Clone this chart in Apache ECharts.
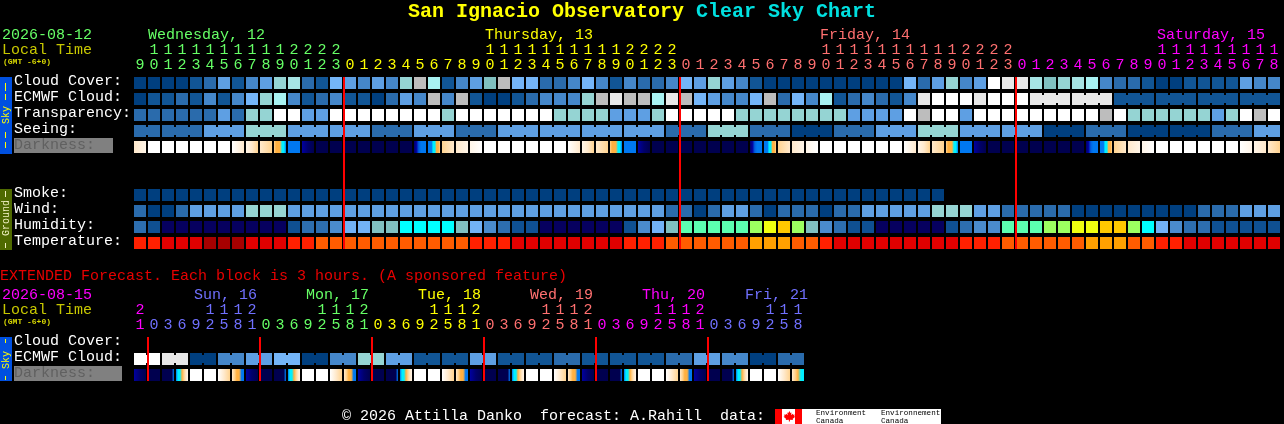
<!DOCTYPE html>
<html><head><meta charset="utf-8">
<style>html,body{margin:0;padding:0;background:#000}#c{width:1284px;height:424px}</style>
<script src="https://cdn.jsdelivr.net/npm/echarts@6/dist/echarts.min.js"></script>
</head><body><div id="c"></div>
<script>
// ---------- data ----------
const title1 = 'San Ignacio Observatory';
const title2 = 'Clear Sky Chart';
const hours = [9,10,11,12,13,14,15,16,17,18,19,20,21,22,23,
 0,1,2,3,4,5,6,7,8,9,10,11,12,13,14,15,16,17,18,19,20,21,22,23,
 0,1,2,3,4,5,6,7,8,9,10,11,12,13,14,15,16,17,18,19,20,21,22,23,
 0,1,2,3,4,5,6,7,8,9,10,11,12,13,14,15,16,17,18];
const extHours = [21,0,3,6,9,12,15,18,21,0,3,6,9,12,15,18,21,0,3,6,9,12,15,18,21,0,3,6,9,12,15,18,21,0,3,6,9,12,15,18,21,0,3,6,9,12,15,18];
const rowNames = ['Cloud Cover:','ECMWF Cloud:','Transparency:','Seeing:','Darkness:','','','Smoke:','Wind:','Humidity:','Temperature:'];
const extRowNames = ['Cloud Cover:','ECMWF Cloud:','Darkness:'];
const midnights = [15,39,63];
const extMidnights = [1,9,17,25,33,41];

// sky levels: 0 clear .. 10 overcast; 'a' and 'b' are the two extra tints seen in the picture
const cloudCover = [0,0,0,0,1,2,4,1,3,4,6,7,2,1,5,4,3,4,3,6,8,'b',1,3,4,'a',8,5,5,2,2,3,5,3,1,3,2,2,3,5,4,6,4,3,1,0,0,0,0,0,0,0,0,0,0,5,2,4,6,3,4,10,9,9,7,'a',6,7,'b',3,2,2,1,0,0,1,1,1,1,4,3,3];
const ecmwf = [0,1,1,2,1,3,1,3,5,6,'b',3,1,2,3,1,1,0,2,4,3,8,3,8,1,0,0,1,2,3,3,3,6,8,9,8,8,'b',9,8,5,4,3,3,5,8,2,5,3,'b',1,2,3,2,1,3,9,10,10,10,9,10,10,10,9,9,9,9,9,9,1,1,1,1,1,1,1,1,1,1,1,1];
const transparency = [2,2,2,2,2,2,4,2,6,6,10,10,4,4,10,10,10,10,10,10,10,10,6,10,10,10,10,10,10,10,6,6,6,6,4,4,4,6,10,10,10,10,10,6,6,6,6,6,6,6,6,4,4,4,4,10,8,10,10,4,10,10,10,10,10,10,10,10,10,8,10,6,6,6,6,6,6,4,6,10,8,10];
const seeing = [2,2,2,2,2,4,4,4,6,6,6,4,4,4,4,4,4,2,2,2,4,4,4,2,2,2,4,4,4,4,4,4,4,4,4,4,4,4,2,2,2,6,6,6,2,2,2,0,0,0,2,2,2,4,4,4,6,6,6,4,4,4,4,4,4,0,0,0,2,2,2,0,0,0,0,0,0,2,2,2,4,4];
const smoke = [0,0,0,0,0,0,0,0,0,0,0,0,0,0,0,0,0,0,0,0,0,0,0,0,0,0,0,0,0,0,0,0,0,0,0,0,0,0,0,0,0,0,0,0,0,0,0,0,0,0,0,0,0,0,0,0,0,0];
const wind = [2,0,0,2,4,4,4,4,6,6,6,4,4,4,4,4,4,4,4,4,4,4,4,4,4,4,4,4,4,4,4,4,4,4,4,4,4,4,2,2,0,2,4,4,2,0,2,2,2,0,2,2,4,4,4,4,4,6,6,6,4,4,2,2,2,2,2,0,0,0,0,0,0,0,0,0,2,2,2,4,4,4];
const humidity = [2,1,0,0,0,0,0,0,0,0,0,1,2,2,3,4,4,5,5,6,6,6,6,5,4,3,2,1,1,0,0,0,0,0,0,1,3,4,5,7,7,7,7,7,8,9,10,8,5,3,2,1,1,0,0,0,0,0,1,2,3,3,7,7,7,8,8,9,9,10,10,8,6,4,3,2,2,1,1,1,1,1];
const temperature = [2,2,1,1,1,0,0,0,1,1,1,2,2,3,3,3,3,3,3,3,3,3,3,3,2,2,2,1,1,1,1,1,1,1,1,2,2,2,3,3,3,3,3,3,4,4,4,3,3,2,1,1,1,1,1,1,1,1,1,2,2,2,3,3,3,3,3,3,4,4,4,3,3,2,2,1,1,1,1,1,1,1];
const darkness = ['hi','j','j','j','j','j','j','jh','ihg','hg','gfffeeD','D','BAa','a','a','a','a','a','a','a','ABcDDD','DDDeeffg','gh','hi','ij','j','j','j','j','j','j','jh','ihg','hg','gfffeeD','D','BAa','a','a','a','a','a','a','a','ABcDDD','DDDeeffg','gh','hi','ij','j','j','j','j','j','j','jh','ihg','hg','gfffeeD','D','BAa','a','a','a','a','a','a','a','ABcDDD','DDDeeffg','gh','hi','ij','j','j','j','j','j','j','ji','ih','hg'];
const extCloud = [10,10,9,9,0,0,3,3,4,4,5,5,0,0,3,3,6,6,4,4,1,1,1,1,4,4,1,1,1,1,2,2,1,1,1,1,1,1,2,2,4,4,3,3,0,0,2,2];
const extDarkness = ['BAa','a','aaaaaD','Deefghi','j','j','jhg','hgffDD','BAa','a','aaaaaD','Deefghi','j','j','jhg','hgffDD','BAa','a','aaaaaD','Deefghi','j','j','jhg','hgffDD','BAa','a','aaaaaD','Deefghi','j','j','jhg','hgffDD','BAa','a','aaaaaD','Deefghi','j','j','jhg','hgffDD','BAa','a','aaaaaD','Deefghi','j','j','jhg','hgfee'];
const days = [['Wednesday, 12',148,'#66ff66'],['Thursday, 13',485,'#ffff00'],['Friday, 14',820,'#ff7070'],['Saturday, 15',1157,'#ff00ff']];
const extDays = [['Sun, 16',194,'#7070ff'],['Mon, 17',306,'#66ff66'],['Tue, 18',418,'#ffff00'],['Wed, 19',530,'#ff7070'],['Thu, 20',642,'#ff00ff'],['Fri, 21',745,'#7070ff']];

// ---------- palettes ----------
const skyColors = {0:'#003f7f',1:'#115595',2:'#2a6bac',3:'#4587ca',4:'#5e9fe3',5:'#74b5f8',6:'#95d4d3',7:'#a6e4e4',8:'#bdbdbd',9:'#e8e8e8',10:'#ffffff',a:'#80c0c0',b:'#a8f2f2'};
const humColors = ['#06005f','#0f5092','#2d6eaf','#4a8bcc','#72b2f6','#80c0c0','#00ffff','#5cffb0','#9cff60','#f0ff10','#ffc800'];
const tempColors = ['#a60000','#e00000','#ff2000','#ff5c00','#ffa000'];
const darkColors = {a:'#00004f',A:'#00006a',B:'#0000a0',b:'#0030c0',c:'#0060e0',D:'#0078f0',d:'#0090f0',e:'#00f0ff',E:'#60d0c0',f:'#ffb040',g:'#ffd390',h:'#ffe9cc',i:'#fff5e8',j:'#ffffff'};

const font = '"Liberation Mono"';
const GREEN='#66ff66',YEL='#ffff00',SALMON='#ff7070',MAG='#ff00ff',BLUE='#7070ff';
const mainHourColor = i => i<15?GREEN:i<39?YEL:i<63?SALMON:MAG;
const extHourColor = i => i<1?MAG:[BLUE,GREEN,YEL,SALMON,MAG,BLUE][Math.floor((i-1)/8)];

// ---------- series data: [col,row,colour,joinLeft] ----------
const rowCells = (arr,row,pal,blockStart,blockLen) => arr.map((v,i)=>[i,row,pal[v],(blockLen&&i>0&&(i-blockStart)%blockLen!==0)?1:0]);
const mainCells = [].concat(
 rowCells(cloudCover,0,skyColors), rowCells(ecmwf,1,skyColors),
 rowCells(transparency,2,skyColors),
 rowCells(seeing,3,skyColors,2,3),
 rowCells(smoke,7,skyColors), rowCells(wind,8,skyColors),
 rowCells(humidity,9,humColors), rowCells(temperature,10,tempColors));
// ECMWF's last stretch is reported as three-hour blocks
mainCells.forEach(c=>{ if(c[1]===1 && c[0]>=64 && (c[0]-64)%3!==0) c[3]=1; });
const darkCells = s => s.map((v,i)=>[i,i]);

function cellItem(params,api){
 const col=api.value(0), row=api.value(1), color=api.value(2), join=api.value(3);
 const p=api.coord([col,row]); const bw=api.size([1,0])[0], bh=api.size([0,1])[1];
 const x=p[0]-bw/2+1, y=p[1]-bh/2+2, w=bw-2, h=12;
 const children=[{type:'rect',shape:{x,y,width:w,height:h},style:{fill:color}}];
 if(join) children.push({type:'rect',shape:{x:x-2,y:y+2,width:2,height:h-4},style:{fill:color}});
 return {type:'group',children};
}
const darkStr={main:darkness,ext:extDarkness};
const darkItem = row => (params,api)=>{
 const col=api.value(0), s=darkStr[params.seriesName][col];
 const p=api.coord([col,row]); const bw=api.size([1,0])[0], bh=api.size([0,1])[1];
 let fill;
 if(s.length===1) fill=darkColors[s];
 else fill=new echarts.graphic.LinearGradient(0,0,1,0,[...s].map((ch,i)=>({offset:i/(s.length-1),color:darkColors[ch]})));
 return {type:'rect',shape:{x:p[0]-bw/2+1,y:p[1]-bh/2+2,width:bw-2,height:12},style:{fill}};
};
const lineItem = (r0,r1)=>(params,api)=>{
 const col=api.value(0);
 const a=api.coord([col,r0]), b=api.coord([col,r1]);
 const bw=api.size([1,0])[0], bh=api.size([0,1])[1];
 const x=a[0]-bw/2;
 return {type:'rect',shape:{x,y:a[1]-bh/2+2,width:2,height:b[1]-a[1]+12},style:{fill:'#ff0000'}};
};

// ---------- axes ----------
const xAxisOf=(gi,list,colorFn,labelFn,offset)=>({type:'category',gridIndex:gi,data:list.map(String),position:'top',offset,
 axisLine:{show:false},axisTick:{show:false},splitLine:{show:false},
 axisLabel:{interval:0,hideOverlap:false,margin:0,fontFamily:font,fontSize:15,lineHeight:15,verticalAlign:'bottom',
   formatter:(v,i)=>labelFn(list[i]),color:(v,i)=>colorFn(i),padding:0}});
const yAxisOf=(gi,list,margin)=>({type:'category',gridIndex:gi,inverse:true,data:list,z:30,
 axisLine:{show:false},axisTick:{show:false},splitLine:{show:false},
 axisLabel:{interval:0,hideOverlap:false,align:'left',verticalAlign:'bottom',lineHeight:3,margin,fontFamily:font,fontSize:15,
   color:v=>v==='Darkness:'?'#606060':'#ffffff'}});

// ---------- decoration text ----------
const T=(text,x,y,fill,size,extra)=>({type:'text',x,y,z:20,silent:true,style:Object.assign({text,fill,font:(size+'px '+font),verticalAlign:'top'},extra||{})});
const R=(x,y,w,h,fill,z)=>({type:'rect',shape:{x,y,width:w,height:h},style:{fill},silent:true,z:z||1});
const VT=(text,cx,cy,fill)=>({type:'text',x:cx,y:cy,rotation:Math.PI/2,z:20,silent:true,style:{text,fill,font:'10px '+font,align:'center',verticalAlign:'middle'}});
const leaf=[[13,0],[15,4],[17,3],[16,8],[19,5],[20,7],[23,6.5],[22,10],[24,11],[19,15],[20,17],[14,16.3],[14,20],[12,20],[12,16.3],[6,17],[7,15],[2,11],[4,10],[3,6.5],[6,7],[7,5],[10,8],[9,3],[11,4]];
const graphics=[
 T(title1,408,2,'#ffff00',20,{font:'bold 20px '+font}),
 T(title2,696,2,'#00e0e0',20,{font:'bold 20px '+font}),
 T('2026-08-12',2,28,GREEN,15),
 T('Local Time',2,43,'#c8c800',15),
 T('(GMT -6+0)',3,58,'#d8d800',8,{font:'bold 8px '+font}),
 ...days.map(d=>T(d[0],d[1],28,d[2],15)),
 // sidebars
 R(0,77,12,77,'#0050e0'), R(5,83,1,8,'#ffff00',2),R(5,94,1,6,'#ffff00',2),R(5,132,1,6,'#ffff00',2),R(5,142,1,6,'#ffff00',2),
 VT('Sky',6,115,'#ffff00'),
 R(0,189,12,61,'#4f6a00'), R(5,191,1,6,'#f0f0c0',2),R(5,243,1,5,'#f0f0c0',2),
 VT('Ground',6,218,'#f0f0c0'),
 R(14,138,99,15,'#808080',1),
 T('EXTENDED Forecast. Each block is 3 hours. (A sponsored feature)',0,269,'#e80000',15),
 T('2026-08-15',2,288,MAG,15),
 T('Local Time',2,303,'#c8c800',15),
 T('(GMT -6+0)',3,318,'#d8d800',8,{font:'bold 8px '+font}),
 ...extDays.map(d=>T(d[0],d[1],288,d[2],15)),
 R(0,337,12,44,'#0050e0'), R(5,339,1,4,'#ffff00',2),R(5,376,1,4,'#ffff00',2),
 VT('Sky',6,360,'#ffff00'),
 R(14,366,108,15,'#808080',1),
 T('© 2026 Attilla Danko  forecast: A.Rahill  data:',342,409,'#ffffff',15),
 R(775,409,166,15,'#ffffff',1), R(775,409,7,15,'#ff0000',2), R(795,409,7,15,'#ff0000',2),
 {type:'polygon',silent:true,z:3,x:782.5,y:411,scaleX:0.53,scaleY:0.53,shape:{points:leaf},style:{fill:'#ff0000'}},
 T('Environment',816,409,'#000000',7.6), T('Canada',816,417,'#000000',7.6),
 T('Environnement',881,409,'#000000',7.6), T('Canada',881,417,'#000000',7.6)
];

const option={
 animation:false,backgroundColor:'#000000',
 tooltip:{show:false},
 grid:[{left:133,top:75,width:1148,height:176},{left:133,top:335,width:672,height:48}],
 xAxis:[
  xAxisOf(0,hours,mainHourColor,h=>String(h%10),2),
  xAxisOf(0,hours,mainHourColor,h=>h>=10?String(Math.floor(h/10)):'',17),
  xAxisOf(1,extHours,extHourColor,h=>String(h%10),2),
  xAxisOf(1,extHours,extHourColor,h=>h>=10?String(Math.floor(h/10)):'',17)
 ],
 yAxis:[yAxisOf(0,rowNames,119),yAxisOf(1,extRowNames,119)],
 series:[
  {name:'cells',type:'custom',coordinateSystem:'cartesian2d',xAxisIndex:0,yAxisIndex:0,renderItem:cellItem,data:mainCells,silent:true,z:3,clip:false},
  {name:'main',type:'custom',xAxisIndex:0,yAxisIndex:0,renderItem:darkItem(4),data:darkCells(darkness),silent:true,z:3,clip:false},
  {name:'midnight',type:'custom',xAxisIndex:0,yAxisIndex:0,renderItem:lineItem(0,10),data:midnights.map(c=>[c]),silent:true,z:5,clip:false},
  {name:'extCells',type:'custom',xAxisIndex:2,yAxisIndex:1,renderItem:cellItem,
   data:extCloud.map((v,i)=>[i,1,skyColors[v],i%2]),silent:true,z:3,clip:false},
  {name:'ext',type:'custom',xAxisIndex:2,yAxisIndex:1,renderItem:darkItem(2),data:darkCells(extDarkness),silent:true,z:3,clip:false},
  {name:'extMidnight',type:'custom',xAxisIndex:2,yAxisIndex:1,renderItem:lineItem(0,2),data:extMidnights.map(c=>[c]),silent:true,z:5,clip:false}
 ],
 graphic:{elements:graphics}
};
const chart=echarts.init(document.getElementById('c'),null,{renderer:'canvas'});
chart.setOption(option);
</script></body></html>
